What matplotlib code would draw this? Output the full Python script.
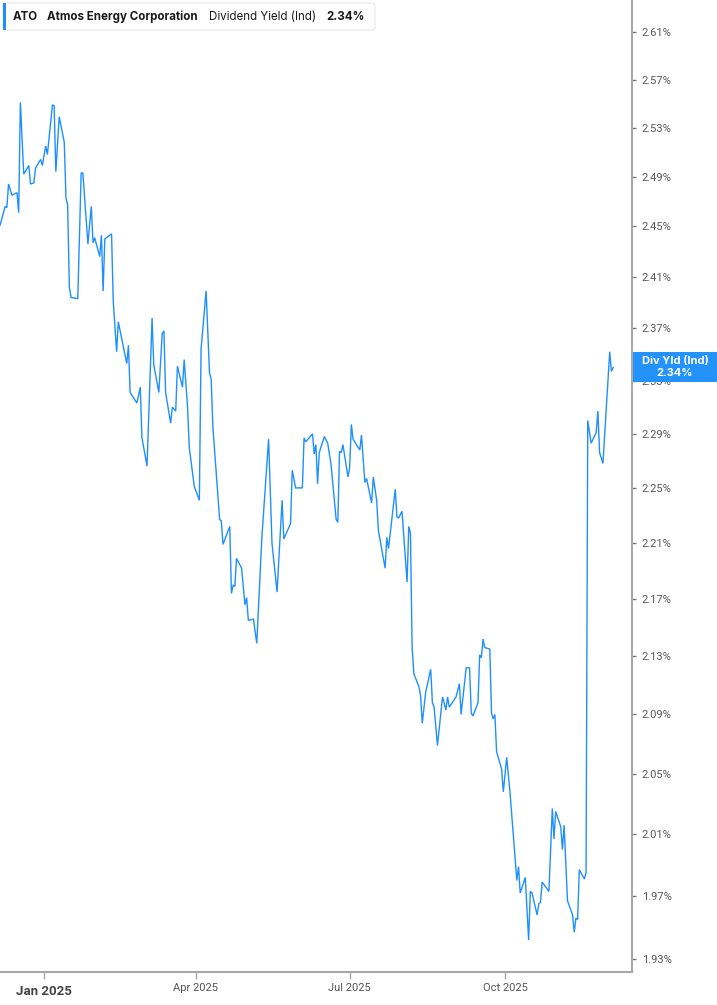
import numpy as np
import pandas as pd
import matplotlib
matplotlib.use('Agg')
import matplotlib.pyplot as plt
import matplotlib.dates as mdates
from matplotlib.ticker import FixedLocator, NullLocator, FuncFormatter
from matplotlib.patches import FancyBboxPatch, Rectangle
from matplotlib.transforms import IdentityTransform

# ATO dividend yield (indicated)
dates = [
    '2024-12-06', '2024-12-09', '2024-12-10', '2024-12-11', '2024-12-13', '2024-12-16', '2024-12-17',
    '2024-12-18', '2024-12-20', '2024-12-23', '2024-12-24', '2024-12-26', '2024-12-27', '2024-12-30',
    '2024-12-31',
    '2025-01-02', '2025-01-03', '2025-01-06', '2025-01-07', '2025-01-08', '2025-01-10', '2025-01-13',
    '2025-01-14', '2025-01-15', '2025-01-16', '2025-01-17', '2025-01-21', '2025-01-23', '2025-01-24',
    '2025-01-27', '2025-01-29', '2025-01-30', '2025-01-31',
    '2025-02-03', '2025-02-04', '2025-02-05', '2025-02-06', '2025-02-10', '2025-02-11', '2025-02-13',
    '2025-02-14', '2025-02-19', '2025-02-20', '2025-02-21', '2025-02-25', '2025-02-27', '2025-02-28',
    '2025-03-03', '2025-03-06', '2025-03-07', '2025-03-10', '2025-03-12', '2025-03-13', '2025-03-14',
    '2025-03-17', '2025-03-18', '2025-03-20', '2025-03-21', '2025-03-24', '2025-03-25', '2025-03-27',
    '2025-03-28', '2025-03-31',
    '2025-04-03', '2025-04-04', '2025-04-07', '2025-04-09', '2025-04-10', '2025-04-11', '2025-04-15',
    '2025-04-16', '2025-04-17', '2025-04-21', '2025-04-22', '2025-04-23', '2025-04-24', '2025-04-25',
    '2025-04-28', '2025-04-30',
    '2025-05-01', '2025-05-02', '2025-05-05', '2025-05-07', '2025-05-10', '2025-05-14', '2025-05-16',
    '2025-05-19', '2025-05-22', '2025-05-23', '2025-05-27', '2025-05-28', '2025-05-30',
    '2025-06-03', '2025-06-04', '2025-06-05', '2025-06-09', '2025-06-10', '2025-06-11', '2025-06-12',
    '2025-06-13', '2025-06-16', '2025-06-18', '2025-06-20', '2025-06-23', '2025-06-24', '2025-06-25',
    '2025-06-26', '2025-06-27', '2025-06-30',
    '2025-07-01', '2025-07-02', '2025-07-03', '2025-07-07', '2025-07-08', '2025-07-10', '2025-07-11',
    '2025-07-14', '2025-07-15', '2025-07-17', '2025-07-18', '2025-07-22', '2025-07-23', '2025-07-24',
    '2025-07-28', '2025-07-29', '2025-07-30',
    '2025-08-01', '2025-08-04', '2025-08-05', '2025-08-06', '2025-08-07', '2025-08-08', '2025-08-11',
    '2025-08-12', '2025-08-13', '2025-08-15', '2025-08-18', '2025-08-19', '2025-08-20', '2025-08-22',
    '2025-08-25', '2025-08-27', '2025-08-28', '2025-08-29',
    '2025-09-02', '2025-09-04', '2025-09-05', '2025-09-08', '2025-09-09', '2025-09-10', '2025-09-11',
    '2025-09-12', '2025-09-15', '2025-09-16', '2025-09-17', '2025-09-18', '2025-09-19', '2025-09-22',
    '2025-09-23', '2025-09-24', '2025-09-25', '2025-09-26', '2025-09-29', '2025-09-30',
    '2025-10-02', '2025-10-04', '2025-10-06', '2025-10-08', '2025-10-09', '2025-10-10', '2025-10-13',
    '2025-10-15', '2025-10-16', '2025-10-17', '2025-10-20', '2025-10-21', '2025-10-22', '2025-10-23',
    '2025-10-27', '2025-10-29', '2025-10-30', '2025-10-31',
    '2025-11-03', '2025-11-04', '2025-11-05', '2025-11-07', '2025-11-10', '2025-11-11', '2025-11-12',
    '2025-11-13', '2025-11-14', '2025-11-17', '2025-11-18', '2025-11-19', '2025-11-21', '2025-11-24',
    '2025-11-25', '2025-11-26', '2025-11-28',
    '2025-12-02', '2025-12-03', '2025-12-04',
]
yields = [
    2.451, 2.466, 2.465, 2.484, 2.475, 2.477, 2.461, 2.551, 2.492, 2.499, 2.484, 2.485, 2.497, 2.504, 2.499,
    2.515, 2.508, 2.549, 2.548, 2.494, 2.539, 2.518, 2.473, 2.467, 2.402, 2.394, 2.393, 2.493, 2.493,
    2.436, 2.466, 2.437, 2.441,
    2.426, 2.443, 2.399, 2.440, 2.444, 2.391, 2.352, 2.375, 2.343, 2.357, 2.321, 2.313, 2.325, 2.287,
    2.266, 2.378, 2.342, 2.321, 2.366, 2.368, 2.321, 2.298, 2.310, 2.307, 2.341, 2.325, 2.346, 2.310,
    2.280, 2.251,
    2.241, 2.354, 2.399, 2.336, 2.331, 2.295, 2.227, 2.226, 2.209, 2.222, 2.174, 2.180, 2.179, 2.199,
    2.192, 2.166,
    2.171, 2.155, 2.156, 2.139, 2.214, 2.286, 2.210, 2.175, 2.241, 2.213, 2.224, 2.263, 2.250,
    2.250, 2.287, 2.284, 2.290, 2.275, 2.282, 2.253, 2.276, 2.288, 2.283, 2.267, 2.227, 2.225, 2.277,
    2.276, 2.282, 2.258,
    2.265, 2.297, 2.286, 2.278, 2.289, 2.254, 2.257, 2.239, 2.258, 2.241, 2.219, 2.192, 2.214, 2.206,
    2.249, 2.229, 2.228,
    2.233, 2.182, 2.222, 2.217, 2.136, 2.118, 2.109, 2.103, 2.084, 2.105, 2.121, 2.098, 2.095, 2.069,
    2.102, 2.093, 2.102, 2.095,
    2.102, 2.111, 2.090, 2.122, 2.122, 2.122, 2.091, 2.089, 2.098, 2.131, 2.129, 2.142, 2.136, 2.135,
    2.091, 2.087, 2.090, 2.065, 2.053, 2.038,
    2.061, 2.037, 2.008, 1.980, 1.989, 1.972, 1.982, 1.942, 1.973, 1.972, 1.958, 1.965, 1.966, 1.979,
    1.973, 2.027, 2.007, 2.025,
    2.015, 2.000, 2.016, 1.967, 1.958, 1.947, 1.956, 1.955, 1.987, 1.981, 1.985, 2.300, 2.283, 2.291,
    2.307, 2.276, 2.268,
    2.352, 2.337, 2.340,
]
ytick_vals = [1.93, 1.97, 2.01, 2.05, 2.09, 2.13, 2.17, 2.21, 2.25, 2.29, 2.33, 2.37, 2.41, 2.45,
              2.49, 2.53, 2.57, 2.61]
xtick_dates = ['2025-01-01', '2025-04-01', '2025-07-01', '2025-10-01']
xtick_labels = ['Jan 2025', 'Apr 2025', 'Jul 2025', 'Oct 2025']

ticker_sym = 'ATO'
company = 'Atmos Energy Corporation'
metric = 'Dividend Yield (Ind)'
badge_name = 'Div Yld (Ind)'

assert len(dates) == len(yields)

W, H = 717, 1005
LINE = '#1f8fff'
GREY_TXT = '#555555'

fig = plt.figure(figsize=(W / 100, H / 100), dpi=100)
fig.patch.set_facecolor('white')

# plot area: x 0..632 px, y 0..972 px
ax = fig.add_axes([0, 1 - 972 / H, 632 / W, 972 / H])

x = pd.to_datetime(dates)
ax.plot(x, yields, color=LINE, lw=1.0, solid_joinstyle='miter')

jan1 = mdates.date2num(pd.Timestamp('2025-01-01'))
ax.set_xlim(jan1 - 26.06, jan1 + 348.2)
ax.set_yscale('log')
ax.set_ylim(1.9219, 2.6374)

ax.yaxis.tick_right()
ax.yaxis.set_major_locator(FixedLocator(ytick_vals))
ax.yaxis.set_minor_locator(NullLocator())
ax.yaxis.set_major_formatter(FuncFormatter(lambda v, p: f'{v:.2f}%'))

ax.set_xticks(mdates.date2num(pd.to_datetime(xtick_dates)))
ax.set_xticklabels(xtick_labels)
ax.xaxis.set_minor_locator(NullLocator())

for s in ['left', 'top']:
    ax.spines[s].set_visible(False)
for s in ['right', 'bottom']:
    ax.spines[s].set_color('#a8a8a8')
    ax.spines[s].set_linewidth(1.5)

ax.tick_params(axis='y', which='major', length=3, width=1, color='#777777', pad=4,
               labelsize=8, labelcolor=GREY_TXT)
ax.tick_params(axis='x', which='major', length=5, width=1, color='#a8a8a8', pad=3,
               labelsize=8, labelcolor=GREY_TXT)
for lab in ax.get_yticklabels() + ax.get_xticklabels():
    lab.set_family('Roboto')
first = ax.get_xticklabels()[0]
first.set_fontweight('bold')
first.set_fontsize(9.5)
first.set_color('#444444')
first.set_y(-0.002)

ax.set_facecolor('white')

# legend box at top left (pixel coords, origin top-left)
def fx(px):
    return px / W

def fy(py):
    return 1 - py / H

box = FancyBboxPatch((3, H - 30), 372, 27, boxstyle='round,pad=0,rounding_size=3',
                     transform=IdentityTransform(), facecolor='white', edgecolor='#e6e6e6',
                     lw=0.8, zorder=5)
fig.add_artist(box)
fig.add_artist(Rectangle((3, H - 30), 3, 27, transform=IdentityTransform(),
                         facecolor=LINE, edgecolor='none', zorder=6))
ty = fy(17)
kw = dict(va='center', ha='left', fontsize=8.3, color='#1a1a1a', family='Inter', zorder=7)
fig.text(fx(13), ty, ticker_sym, fontweight='bold', **kw)
fig.text(fx(47), ty, company, fontweight='bold', **kw)
fig.text(fx(209), ty, metric, **kw)
fig.text(fx(326), ty, f'{yields[-1]:.2f}%', fontweight='bold', **kw)

# last value badge on the right axis
fig.canvas.draw()
_, last_py = ax.transData.transform((mdates.date2num(x[-1]), yields[-1]))
badge = Rectangle((633, last_py - 15), W - 633, 30, transform=IdentityTransform(),
                  facecolor='#2392fb', edgecolor='none', zorder=8)
fig.add_artist(badge)
cx = (633 + W) / 2
fig.text(cx / W, (last_py + 6) / H, badge_name, ha='center', va='center', color='white',
         fontsize=8, fontweight='bold', family='Inter', zorder=9)
fig.text(cx / W, (last_py - 6) / H, f'{yields[-1]:.2f}%', ha='center', va='center', color='white',
         fontsize=8, fontweight='bold', family='Inter', zorder=9)

fig.savefig('out.png', dpi=100, facecolor='white')
